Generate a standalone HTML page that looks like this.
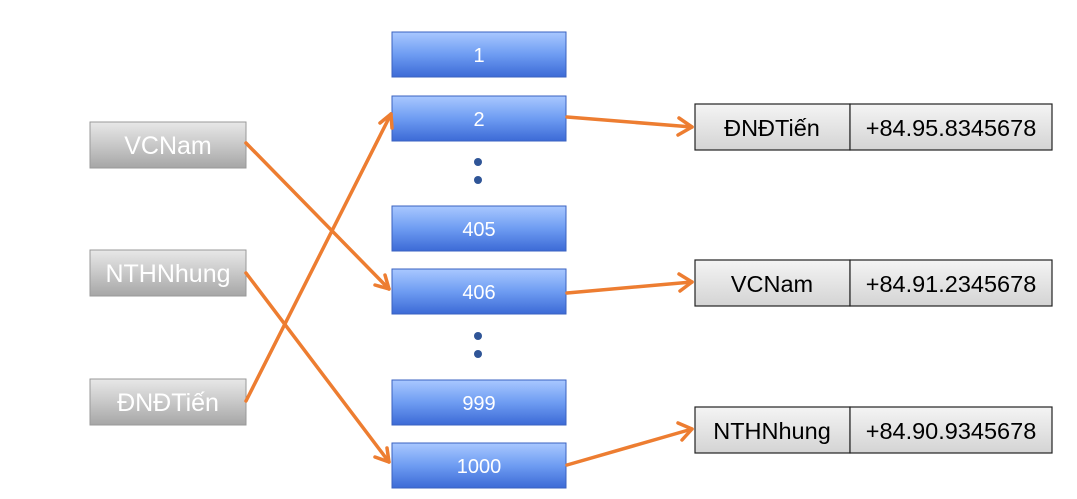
<!DOCTYPE html>
<html><head><meta charset="utf-8"><style>
body{margin:0;background:#fff;width:1077px;height:494px;overflow:hidden}
</style></head><body>
<svg width="1077" height="494" xmlns="http://www.w3.org/2000/svg" font-family="Liberation Sans, sans-serif">
<defs>
<linearGradient id="b" x1="0" y1="0" x2="0" y2="1"><stop offset="0" stop-color="#a9c8ff"/><stop offset="0.5" stop-color="#6e9cf2"/><stop offset="1" stop-color="#3c6ad6"/></linearGradient>
<linearGradient id="g" x1="0" y1="0" x2="0" y2="1"><stop offset="0" stop-color="#e8e8e8"/><stop offset="0.5" stop-color="#c8c8c8"/><stop offset="1" stop-color="#a6a6a6"/></linearGradient>
<linearGradient id="w" x1="0" y1="0" x2="0" y2="1"><stop offset="0" stop-color="#f4f4f4"/><stop offset="1" stop-color="#d4d4d4"/></linearGradient>
</defs>
<g fill="url(#b)" stroke="#3a62c0" stroke-width="1">
<rect x="392" y="32" width="174" height="45"/>
<rect x="392" y="96" width="174" height="45"/>
<rect x="392" y="206" width="174" height="45"/>
<rect x="392" y="269" width="174" height="45"/>
<rect x="392" y="380" width="174" height="45"/>
<rect x="392" y="443" width="174" height="45"/>
</g>
<g fill="#fff" font-size="20" text-anchor="middle">
<text x="479" y="62">1</text><text x="479" y="126">2</text><text x="479" y="236">405</text>
<text x="479" y="299">406</text><text x="479" y="410">999</text><text x="479" y="473">1000</text>
</g>
<g fill="#2f5597"><circle cx="478" cy="162" r="4"/><circle cx="478" cy="180" r="4"/><circle cx="478" cy="336" r="4"/><circle cx="478" cy="354" r="4"/></g>
<g fill="url(#g)" stroke="#999" stroke-width="1">
<rect x="90" y="122" width="156" height="46"/>
<rect x="90" y="250" width="156" height="46"/>
<rect x="90" y="379" width="156" height="46"/>
</g>
<g fill="#fff" font-size="25" text-anchor="middle">
<text x="168" y="154">VCNam</text><text x="168" y="282">NTHNhung</text><text x="168" y="411">ĐNĐTiến</text>
</g>
<g fill="url(#w)" stroke="#222" stroke-width="1.2">
<rect x="695" y="104" width="155" height="46"/><rect x="850" y="104" width="202" height="46"/>
<rect x="695" y="260" width="155" height="46"/><rect x="850" y="260" width="202" height="46"/>
<rect x="695" y="407" width="155" height="46"/><rect x="850" y="407" width="202" height="46"/>
</g>
<g fill="#000" font-size="23.5" text-anchor="middle">
<text x="772" y="136">ĐNĐTiến</text><text x="951" y="136">+84.95.8345678</text>
<text x="772" y="292">VCNam</text><text x="951" y="292">+84.91.2345678</text>
<text x="772" y="439">NTHNhung</text><text x="951" y="439">+84.90.9345678</text>
</g>
<g stroke="#ed7d31" stroke-width="3.5" fill="none" stroke-linecap="round" stroke-linejoin="round">
<line x1="246" y1="143" x2="389" y2="289"/><polyline points="375,285 389,289 385,275"/>
<line x1="246" y1="273" x2="389" y2="462"/><polyline points="375,457 389,462 387,448"/>
<line x1="246" y1="401" x2="391" y2="114"/><polyline points="380,123 391,114 392,128"/>
<line x1="567" y1="117" x2="692" y2="127"/><polyline points="679,118 692,127 678,135"/>
<line x1="567" y1="293" x2="692" y2="282"/><polyline points="679,274 692,282 680,291"/>
<line x1="567" y1="465" x2="692" y2="429"/><polyline points="678,423 692,429 682,440"/>
</g>
</svg>
</body></html>
